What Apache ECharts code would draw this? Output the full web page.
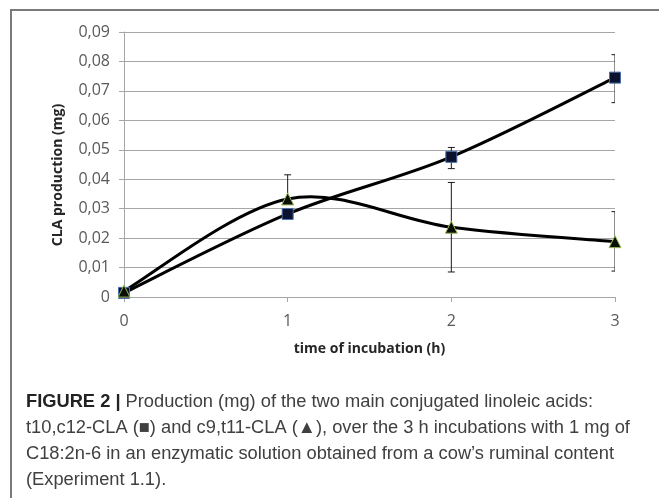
<!DOCTYPE html>
<html><head><meta charset="utf-8">
<script src="https://cdn.jsdelivr.net/npm/echarts@6/dist/echarts.min.js"></script>
<style>html,body{margin:0;padding:0;background:#fff}#c{width:659px;height:498px}</style>
</head><body><div id="c"></div>
<script>
var hours = [0, 1, 2, 3];
var t10c12 = [0.0014, 0.0282, 0.0476, 0.0745];
var t10c12ErrLow = [0, 0, 0.0040, 0.0085];
var t10c12ErrHigh = [0, 0, 0.0032, 0.0078];
var c9t11 = [0.0020, 0.0333, 0.0237, 0.0188];
var c9t11ErrLow = [0, 0, 0.0152, 0.0100];
var c9t11ErrHigh = [0, 0.0082, 0.0152, 0.0102];
var yTicks = ['0', '0,01', '0,02', '0,03', '0,04', '0,05', '0,06', '0,07', '0,08', '0,09'];
var xTitle = 'time of incubation (h)';
var yTitle = 'CLA production (mg)';
var captionLabel = 'FIGURE 2 |';
var captionLines = [
  'Production (mg) of the two main conjugated linoleic acids:',
  't10,c12-CLA (\u25A0) and c9,t11-CLA (\u25B2), over the 3 h incubations with 1 mg of',
  'C18:2n-6 in an enzymatic solution obtained from a cow\u2019s ruminal content',
  '(Experiment 1.1).'
];

function pts(vals) { return hours.map(function (h, i) { return [h, vals[i]]; }); }
function errData(vals, lo, hi) {
  return hours.map(function (h, i) { return [h, vals[i], vals[i] - lo[i], vals[i] + hi[i]]; });
}
function errRender(params, api) {
  var c = api.coord([api.value(0), api.value(1)]);
  var lo = api.coord([api.value(0), api.value(2)]);
  var hi = api.coord([api.value(0), api.value(3)]);
  var w = 3.5;
  var st = { stroke: '#1a1a1a', lineWidth: 1 };
  var ch = [];
  if (hi[1] < c[1] - 0.5) {
    ch.push({ type: 'line', shape: { x1: c[0], y1: c[1], x2: hi[0], y2: hi[1] }, style: st });
    ch.push({ type: 'line', shape: { x1: hi[0] - w, y1: hi[1], x2: hi[0] + w, y2: hi[1] }, style: st });
  }
  if (lo[1] > c[1] + 0.5) {
    ch.push({ type: 'line', shape: { x1: c[0], y1: c[1], x2: lo[0], y2: lo[1] }, style: st });
    ch.push({ type: 'line', shape: { x1: lo[0] - w, y1: lo[1], x2: lo[0] + w, y2: lo[1] }, style: st });
  }
  return { type: 'group', children: ch };
}
// Excel-style smoothed line: cubic Bezier segments (Catmull-Rom, tangent/6), positions from the axes
function curveRender(vals) {
  return function (params, api) {
    var i = params.dataIndex, n = hours.length;
    if (i >= n - 1) return;
    var P = function (k) { k = Math.max(0, Math.min(n - 1, k)); return api.coord([hours[k], vals[k]]); };
    var p0 = P(i - 1), p1 = P(i), p2 = P(i + 1), p3 = P(i + 2);
    return {
      type: 'bezierCurve',
      shape: {
        x1: p1[0], y1: p1[1], x2: p2[0], y2: p2[1],
        cpx1: p1[0] + (p2[0] - p0[0]) / 6, cpy1: p1[1] + (p2[1] - p0[1]) / 6,
        cpx2: p2[0] - (p3[0] - p1[0]) / 6, cpy2: p2[1] - (p3[1] - p1[1]) / 6
      },
      style: { stroke: '#000', lineWidth: 3, fill: null, lineCap: 'round' }
    };
  };
}

var chart = echarts.init(document.getElementById('c'), null, { renderer: 'canvas' });
var capFont = '"Liberation Sans", Arial, sans-serif';
var graphics = [
  { type: 'line', shape: { x1: 10, y1: 10, x2: 659, y2: 10 }, style: { stroke: '#7a7a7a', lineWidth: 2 } },
  { type: 'line', shape: { x1: 11, y1: 10, x2: 11, y2: 498 }, style: { stroke: '#7a7a7a', lineWidth: 2 } },
  { type: 'text', x: 58, y: 175, rotation: Math.PI / 2,
    style: { text: yTitle, font: 'bold 14px "Open Sans", sans-serif', fill: '#262626', align: 'center', verticalAlign: 'middle' } }
];
captionLines.forEach(function (t, i) {
  graphics.push({
    type: 'text', x: 26, y: 402 + i * 26,
    style: {
      text: i === 0 ? '{b|' + captionLabel + '} ' + t : t,
      font: '18.3px ' + capFont,
      fill: '#404040', verticalAlign: 'middle',
      rich: { b: { fontWeight: 'bold', fontSize: 18.3, fontFamily: capFont, fill: '#222' } }
    }
  });
});

chart.setOption({
  animation: false,
  grid: { left: 124, right: 44, top: 32, bottom: 201 },
  xAxis: {
    type: 'value', min: 0, max: 3, interval: 1,
    name: xTitle, nameLocation: 'middle', nameGap: 45,
    nameTextStyle: { fontWeight: 'bold', fontSize: 14, color: '#262626', fontFamily: '"Open Sans", sans-serif' },
    axisLine: { lineStyle: { color: '#a6a6a6', width: 1 } },
    axisTick: { show: true, length: 5, lineStyle: { color: '#a6a6a6' } },
    axisLabel: { color: '#595959', fontSize: 16, margin: 16, fontFamily: '"Open Sans", sans-serif' },
    splitLine: { show: false }
  },
  yAxis: {
    type: 'value', min: 0, max: 0.09, interval: 0.01,
    axisLine: { show: true, lineStyle: { color: '#a6a6a6', width: 1 } },
    axisTick: { show: true, length: 5, lineStyle: { color: '#a6a6a6' } },
    axisLabel: { color: '#595959', fontSize: 16, margin: 14, fontFamily: '"Open Sans", sans-serif',
      formatter: function (v) { return yTicks[Math.round(v * 100)]; } },
    splitLine: { show: true, lineStyle: { color: '#a6a6a6', width: 1 } }
  },
  graphic: graphics,
  series: [
    { type: 'custom', data: errData(t10c12, t10c12ErrLow, t10c12ErrHigh), renderItem: errRender, clip: true, z: 1, silent: true },
    { type: 'custom', data: errData(c9t11, c9t11ErrLow, c9t11ErrHigh), renderItem: errRender, clip: true, z: 1, silent: true },
    { type: 'custom', data: pts(t10c12), renderItem: curveRender(t10c12), z: 2, silent: true },
    { type: 'custom', data: pts(c9t11), renderItem: curveRender(c9t11), z: 2, silent: true },
    { type: 'scatter', name: 't10,c12-CLA', data: pts(t10c12), symbol: 'rect', symbolSize: 11, z: 3,
      itemStyle: { color: '#0b1230', borderColor: '#4a6fa8', borderWidth: 1, opacity: 1 } },
    { type: 'scatter', name: 'c9,t11-CLA', data: pts(c9t11), symbol: 'triangle', symbolSize: 12, z: 4,
      itemStyle: { color: '#0a0f05', borderColor: '#9bbb59', borderWidth: 1, opacity: 1 } }
  ]
});
</script></body></html>
